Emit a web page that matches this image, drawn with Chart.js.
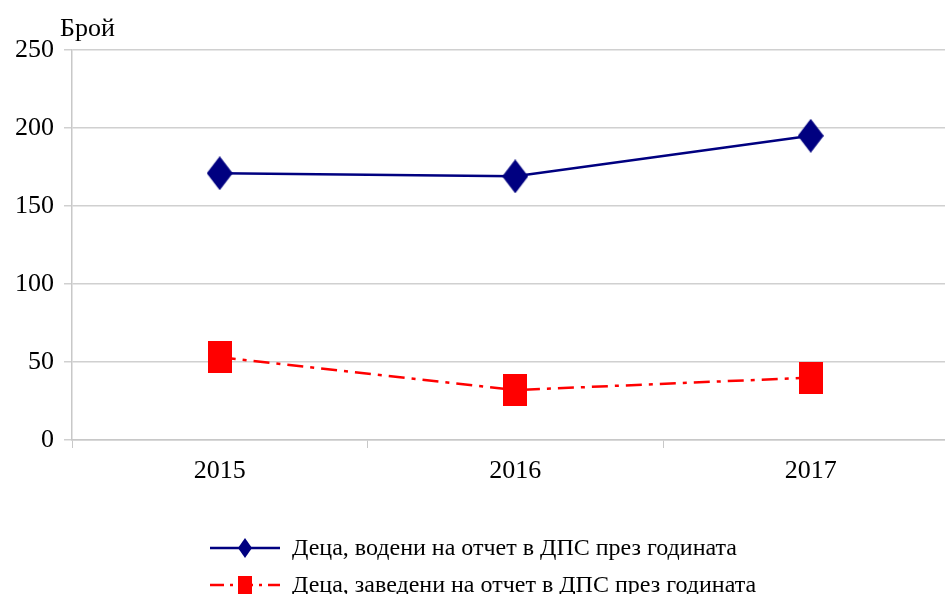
<!DOCTYPE html>
<html lang="bg">
<head>
<meta charset="UTF-8">
<title>Деца на отчет в ДПС</title>
<script src="https://cdn.jsdelivr.net/npm/chart.js"></script>
<style>
html, body { margin: 0; padding: 0; background: #fff; overflow: hidden; }
#wrap { position: absolute; left: 0; top: 0; width: 965px; height: 594px; }
</style>
</head>
<body>
<div id="wrap"><canvas id="lineChart" width="965" height="594"></canvas></div>
<script>
const years = ['2015', '2016', '2017'];
const ledByYear = [171, 169, 195];
const placedByYear = [53, 32, 40];
const yTicks = [0, 50, 100, 150, 200, 250];
const seriesNames = [
    'Деца, водени на отчет в ДПС през годината',
    'Деца, заведени на отчет в ДПС през годината'
];
const axisTitle = 'Брой';

const FONT = '"Liberation Serif", "Times New Roman", serif';

// marker images (taller than wide, like the original)
function makeMarker(shape, color, w, h) {
    const c = document.createElement('canvas');
    c.width = w; c.height = h;
    const g = c.getContext('2d');
    g.fillStyle = color;
    if (shape === 'diamond') {
        g.beginPath();
        g.moveTo(w / 2, 0); g.lineTo(w, h / 2); g.lineTo(w / 2, h); g.lineTo(0, h / 2);
        g.closePath(); g.fill();
    } else {
        g.fillRect(0, 0, w, h);
    }
    return c;
}
const diamond = makeMarker('diamond', '#000080', 26, 34);
const square = makeMarker('square', '#ff0000', 24, 32);
const diamondSmall = makeMarker('diamond', '#000080', 14, 20);
const squareSmall = makeMarker('square', '#ff0000', 14, 18);

const extras = {
    id: 'extras',
    afterDraw(chart) {
        const ctx = chart.ctx;
        ctx.save();
        ctx.fillStyle = '#000';
        ctx.font = '26px ' + FONT;
        ctx.textBaseline = 'alphabetic';
        ctx.textAlign = 'left';
        ctx.fillText(axisTitle, 60, 36);

        // legend
        const rows = [
            { y: 548, color: '#000080', dash: [], img: diamondSmall },
            { y: 585, color: '#ff0000', dash: [14, 6, 3, 6], img: squareSmall }
        ];
        ctx.font = '24px ' + FONT;
        rows.forEach((r, i) => {
            ctx.strokeStyle = r.color;
            ctx.lineWidth = 2.5;
            ctx.setLineDash(r.dash);
            ctx.beginPath();
            ctx.moveTo(210, r.y); ctx.lineTo(280, r.y);
            ctx.stroke();
            ctx.setLineDash([]);
            ctx.drawImage(r.img, 245 - r.img.width / 2, r.y - r.img.height / 2);
            ctx.fillStyle = '#000';
            ctx.textBaseline = 'middle';
            ctx.fillText(seriesNames[i], 292, r.y + 1);
        });
        ctx.restore();
    }
};

new Chart(document.getElementById('lineChart'), {
    type: 'line',
    data: {
        labels: years,
        datasets: [{
            label: seriesNames[0],
            data: ledByYear,
            borderColor: '#000080',
            borderWidth: 2.5,
            pointStyle: diamond,
            tension: 0
        }, {
            label: seriesNames[1],
            data: placedByYear,
            borderColor: '#ff0000',
            borderWidth: 2.5,
            borderDash: [16, 7, 4, 7],
            pointStyle: square,
            tension: 0
        }]
    },
    options: {
        responsive: false,
        animation: false,
        events: [],
        layout: { padding: { top: 50, right: 3, bottom: 84, left: 0 } },
        plugins: { legend: { display: false }, tooltip: { enabled: false } },
        scales: {
            x: {
                offset: true,
                afterFit: s => { s.height = 70; },
                grid: { offset: true, drawOnChartArea: false, drawTicks: true, tickLength: 8, color: '#c8c8c8' },
                border: { color: '#c8c8c8', width: 1.5 },
                ticks: { color: '#000', padding: 8, font: { family: FONT, size: 26 } }
            },
            y: {
                min: 0,
                max: 250,
                afterFit: s => { s.width = 72; },
                afterBuildTicks: s => { s.ticks = yTicks.map(v => ({ value: v })); },
                grid: { color: '#d0d0d0', lineWidth: 1.5, tickLength: 8 },
                border: { color: '#c8c8c8', width: 1.5 },
                ticks: { color: '#000', padding: 10, font: { family: FONT, size: 26 } }
            }
        }
    },
    plugins: [extras]
});
</script>
</body>
</html>
